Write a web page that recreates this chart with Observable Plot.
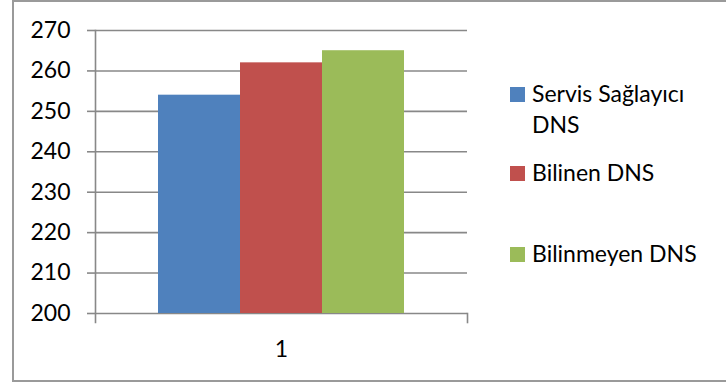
<!DOCTYPE html>
<html>
<head>
<meta charset="utf-8">
<script src="https://cdn.jsdelivr.net/npm/d3@7"></script>
<script src="https://cdn.jsdelivr.net/npm/@observablehq/plot@0.6"></script>
<style>
  html, body { margin: 0; padding: 0; background: #fff; }
  #wrap { position: relative; width: 726px; height: 385px; overflow: hidden; font-family: Lato, "Open Sans", sans-serif; }
  #border { position: absolute; left: 12px; top: 0px; width: 800px; height: 378px; border: 2px solid #9a9a9a; box-sizing: content-box; }
  #chart { position: absolute; left: 0; top: 0; }
  .item { position: absolute; left: 510px; width: 200px; }
  .sw { position: absolute; left: 0; width: 15px; height: 15px; top: 9px; }
  .lbl { margin-left: 22px; width: 180px; font-size: 23px; line-height: 31px; color: #000; }
</style>
</head>
<body>
<div id="wrap">
  <div id="border"></div>
  <div id="chart"></div>
  <div id="legend"></div>
</div>
<script>
const categories = ["1"];
const series = ["Servis Sağlayıcı DNS", "Bilinen DNS", "Bilinmeyen DNS"];
const values = [254, 262, 265];
const colors = ["#4F81BD", "#C0504D", "#9BBB59"];
const yDomain = [200, 270];
const yTicks = [200, 210, 220, 230, 240, 250, 260, 270];
const legendTops = [78, 157, 238];

const data = series.map((s, i) => ({cat: categories[0], series: s, value: values[i]}));
const gridColor = "#888888";

const chart = Plot.plot({
  width: 480,
  height: 385,
  marginLeft: 95,
  marginRight: 13,
  marginTop: 30,
  marginBottom: 72,
  style: {fontFamily: "Lato, 'Open Sans', sans-serif", fontSize: "23px", color: "#000", background: "transparent"},
  fx: {domain: categories, padding: 0, label: null, axis: null},
  x: {domain: series, paddingInner: 0, paddingOuter: 0.75, axis: null},
  y: {domain: yDomain, axis: null},
  color: {domain: series, range: colors},
  marks: [
    Plot.ruleY(yTicks, {stroke: gridColor, strokeWidth: 1.6}),
    Plot.barY(data, {fx: "cat", x: "series", y1: yDomain[0], y2: "value", fill: "series"}),
    Plot.frame({anchor: "left", stroke: gridColor, strokeWidth: 1.6, insetBottom: -9}),
    Plot.frame({anchor: "right", stroke: gridColor, strokeWidth: 1.6, insetTop: 283, insetBottom: -9}),
    Plot.axisY({ticks: yTicks, tickSize: 8, tickPadding: 17, stroke: gridColor, strokeWidth: 1.6, fill: "#000", label: null, tickFormat: d => String(d)}),
    Plot.axisFx({anchor: "bottom", tickSize: 0, tickPadding: 27, fill: "#000", label: null})
  ]
});
document.getElementById("chart").appendChild(chart);

const legend = document.getElementById("legend");
series.forEach((s, i) => {
  const item = document.createElement("div");
  item.className = "item";
  item.style.top = legendTops[i] + "px";
  const sw = document.createElement("div");
  sw.className = "sw";
  sw.style.background = colors[i];
  const lbl = document.createElement("div");
  lbl.className = "lbl";
  lbl.textContent = s;
  item.appendChild(sw);
  item.appendChild(lbl);
  legend.appendChild(item);
});
</script>
</body>
</html>
